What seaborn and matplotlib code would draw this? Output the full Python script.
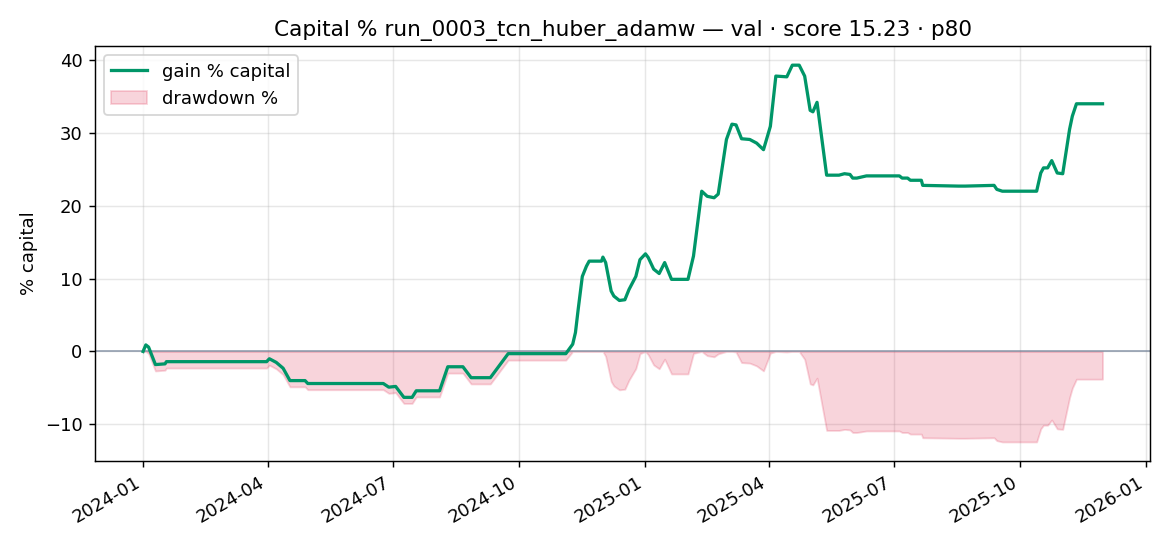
import matplotlib
matplotlib.use('Agg')
import seaborn as sns
import matplotlib.pyplot as plt
import matplotlib.dates as mdates
import pandas as pd

# gain % capital (breakpoints of the curve)
dates = [
	"2024-01-01", "2024-01-03", "2024-01-05", "2024-01-10", "2024-01-17", "2024-01-18",
	"2024-03-31", "2024-04-02", "2024-04-07", "2024-04-12", "2024-04-17", "2024-04-28",
	"2024-04-30", "2024-06-24", "2024-06-28", "2024-07-03", "2024-07-09", "2024-07-15",
	"2024-07-18", "2024-08-04", "2024-08-10", "2024-08-21", "2024-08-27", "2024-09-10",
	"2024-09-23", "2024-11-04", "2024-11-09", "2024-11-11", "2024-11-13", "2024-11-16",
	"2024-11-19", "2024-11-21", "2024-11-30", "2024-12-01", "2024-12-03", "2024-12-07",
	"2024-12-09", "2024-12-13", "2024-12-17", "2024-12-20", "2024-12-25", "2024-12-28",
	"2025-01-01", "2025-01-03", "2025-01-07", "2025-01-11", "2025-01-15", "2025-01-20",
	"2025-02-01", "2025-02-05", "2025-02-11", "2025-02-15", "2025-02-20", "2025-02-23",
	"2025-03-01", "2025-03-05", "2025-03-08", "2025-03-12", "2025-03-18", "2025-03-23",
	"2025-03-28", "2025-04-02", "2025-04-06", "2025-04-14", "2025-04-18", "2025-04-23",
	"2025-04-27", "2025-05-01", "2025-05-03", "2025-05-06", "2025-05-13", "2025-05-22",
	"2025-05-26", "2025-05-30", "2025-06-01", "2025-06-04", "2025-06-11", "2025-07-05",
	"2025-07-07", "2025-07-11", "2025-07-13", "2025-07-21", "2025-07-22", "2025-08-17",
	"2025-08-22", "2025-09-12", "2025-09-14", "2025-09-18", "2025-10-13", "2025-10-16",
	"2025-10-18", "2025-10-21", "2025-10-24", "2025-10-28", "2025-11-01", "2025-11-06",
	"2025-11-08", "2025-11-11", "2025-11-30",
]
gain = [
	0.0, 0.9, 0.6, -1.8, -1.7, -1.4,
	-1.4, -1.0, -1.5, -2.3, -4.0, -4.0,
	-4.4, -4.4, -4.9, -4.8, -6.3, -6.3,
	-5.4, -5.4, -2.1, -2.1, -3.6, -3.6,
	-0.3, -0.3, 1.0, 2.6, 5.8, 10.3,
	11.7, 12.4, 12.4, 12.95, 12.2, 8.3,
	7.6, 7.0, 7.1, 8.5, 10.3, 12.6,
	13.4, 12.9, 11.3, 10.7, 12.2, 9.9,
	9.9, 13.1, 22.0, 21.3, 21.1, 21.6,
	29.1, 31.2, 31.1, 29.2, 29.1, 28.6,
	27.7, 30.9, 37.8, 37.7, 39.3, 39.3,
	37.8, 33.1, 32.9, 34.2, 24.2, 24.2,
	24.4, 24.3, 23.8, 23.8, 24.1, 24.1,
	23.8, 23.8, 23.5, 23.5, 22.8, 22.7,
	22.7, 22.8, 22.25, 22.0, 22.0, 24.5,
	25.2, 25.2, 26.2, 24.5, 24.4, 30.5,
	32.3, 34.0, 34.0,
]

title = "Capital % run_0003_tcn_huber_adamw — val · score 15.23 · p80"

df = pd.DataFrame({"date": pd.to_datetime(dates), "gain": gain})
equity = 1 + df["gain"] / 100
df["drawdown"] = (equity / equity.cummax() - 1) * 100			#drawdown from running peak of the equity curve

fig, ax = plt.subplots(figsize=(9, 4.2), dpi=130)
sns.lineplot(ax=ax, data=df, x="date", y="gain", color="#009668", linewidth=1.8, label="gain % capital", zorder=3)
ax.fill_between(df["date"], df["drawdown"], 0, color="crimson", alpha=0.18, label="drawdown %", zorder=2)
ax.axhline(0, color="#6f7f96", linewidth=0.9, alpha=0.75, zorder=2.5)

ax.set_title(title)
ax.set_xlabel("")
ax.set_ylabel("% capital")
ax.grid(True, alpha=0.3)
ax.xaxis.set_major_locator(mdates.MonthLocator(bymonth=[1, 4, 7, 10]))
ax.xaxis.set_major_formatter(mdates.DateFormatter("%Y-%m"))
ax.legend(loc="upper left")
fig.autofmt_xdate()
fig.tight_layout()
fig.savefig("out.png", dpi=130)
